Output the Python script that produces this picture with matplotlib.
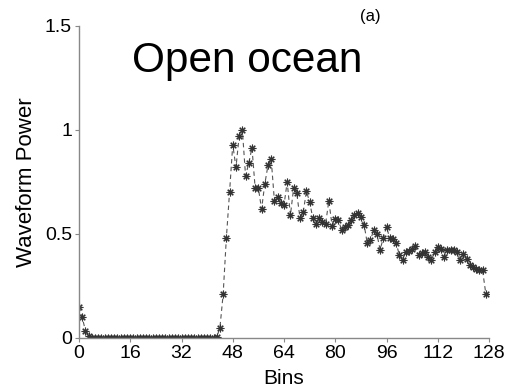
import matplotlib
matplotlib.use("Agg")
from matplotlib import pyplot as plt

plt.rcParams['font.family'] = ['Liberation Sans', 'DejaVu Sans']

# waveform power per range bin (open ocean echo)
bins = list(range(128))
power = [
    0.15, 0.10, 0.035, 0.012, 0.0, 0.0, 0.0, 0.0, 0.0, 0.0,
    0.0, 0.0, 0.0, 0.0, 0.0, 0.0, 0.0, 0.0, 0.0, 0.0,
    0.0, 0.0, 0.0, 0.0, 0.0, 0.0, 0.0, 0.0, 0.0, 0.0,
    0.0, 0.0, 0.0, 0.0, 0.0, 0.0, 0.0, 0.0, 0.0, 0.0,
    0.0, 0.0, 0.0, 0.003, 0.05, 0.21, 0.48, 0.70, 0.93, 0.82,
    0.97, 1.00, 0.78, 0.84, 0.915, 0.72, 0.72, 0.62, 0.74, 0.83,
    0.86, 0.66, 0.68, 0.65, 0.64, 0.75, 0.59, 0.72, 0.695, 0.575,
    0.605, 0.705, 0.655, 0.575, 0.55, 0.575, 0.56, 0.55, 0.66, 0.54,
    0.57, 0.565, 0.52, 0.535, 0.545, 0.565, 0.59, 0.60, 0.58, 0.545,
    0.455, 0.47, 0.52, 0.50, 0.425, 0.48, 0.535, 0.48, 0.478, 0.457,
    0.40, 0.375, 0.414, 0.42, 0.43, 0.44, 0.40, 0.41, 0.415, 0.39,
    0.373, 0.414, 0.438, 0.43, 0.39, 0.422, 0.425, 0.425, 0.414, 0.377,
    0.406, 0.38, 0.35, 0.34, 0.333, 0.325, 0.325, 0.213,
]
xticks = [0, 16, 32, 48, 64, 80, 96, 112, 128]
yticks = [0, 0.5, 1, 1.5]
ytick_labels = ["0", "0.5", "1", "1.5"]

fig = plt.figure(figsize=(5.08, 3.92), dpi=100)
ax = fig.add_axes([79 / 508, 1 - 338 / 392, 410 / 508, 312 / 392])

ax.plot(bins, power, linestyle='--', color='#555555', linewidth=0.8,
        marker=(8, 2, 0), markersize=5.5, markeredgewidth=0.8,
        markeredgecolor='#333333', dashes=(4, 3))

ax.set_xlim(0, 128)
ax.set_ylim(0, 1.5)
ax.set_xticks(xticks)
ax.set_yticks(yticks)
ax.set_yticklabels(ytick_labels)

for side in ['top', 'right']:
    ax.spines[side].set_visible(False)
for side in ['left', 'bottom']:
    ax.spines[side].set_color('#888888')
    ax.spines[side].set_linewidth(1.0)
ax.tick_params(direction='out', length=3, width=0.8, color='#888888',
               labelsize=14, pad=2)

ax.set_xlabel("Bins", fontsize=15, labelpad=5)
ax.set_ylabel("Waveform Power", fontsize=16, labelpad=6)

fig.text(247.5 / 508, 1 - 72 / 392, "Open ocean", fontsize=30.5,
         ha='center', va='baseline')
fig.text(370 / 508, 1 - 16 / 392, "(a)", fontsize=12,
         ha='center', va='center')

fig.savefig("out.png", dpi=100)
